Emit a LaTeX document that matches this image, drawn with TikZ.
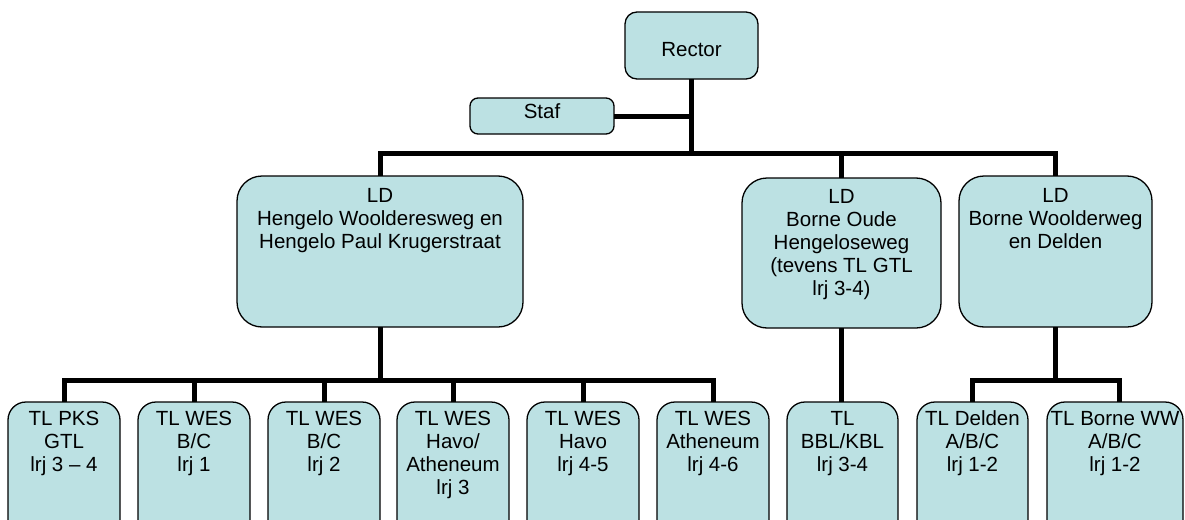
\documentclass[tikz,border=0pt]{standalone}
\usepackage{fontspec}
\setmainfont{Liberation Sans}
\usetikzlibrary{calc}
\definecolor{boxfill}{RGB}{188,225,227}
\newcommand{\boxtext}[4]{\parbox[c][#2][t]{#1}{\centering\vspace*{#3}#4\par}}
\begin{document}
\begin{tikzpicture}[x=1pt,y=-1pt,
  box/.style={draw=black,line width=1.3pt,fill=boxfill,inner sep=0pt,outer sep=0pt,
    anchor=north west,rounded corners=#1,font=\fontsize{20.5}{23}\selectfont},
  box/.default=18pt,
  conn/.style={line width=5pt}]
\useasboundingbox (0,0) rectangle (1185,519);
\clip (0,0) rectangle (1185,519);
% top level
\node[box=12pt] (rector) at (625,12) {\boxtext{133pt}{67pt}{30pt}{Rector}};
\node[box=8pt] (staf) at (470,98) {\boxtext{144pt}{36pt}{6pt}{Staf}};
% LD level
\node[box=25pt] (ld1) at (237,176) {\boxtext{286pt}{151pt}{12pt}{LD\\Hengelo Woolderesweg en\\Hengelo Paul Krugerstraat}};
\node[box=25pt] (ld2) at (742,178) {\boxtext{199pt}{150pt}{11pt}{LD\\Borne Oude\\Hengeloseweg\\(tevens TL GTL\\lrj 3-4)}};
\node[box=25pt] (ld3) at (959,176) {\boxtext{193pt}{151pt}{12pt}{LD\\Borne Woolderweg\\en Delden}};
% TL level
\node[box] (b1) at (8,402) {\boxtext{112pt}{140pt}{9pt}{TL PKS\\GTL\\lrj 3 – 4}};
\node[box] (b2) at (138,402) {\boxtext{112pt}{140pt}{9pt}{TL WES\\B/C\\lrj 1}};
\node[box] (b3) at (268,402) {\boxtext{112pt}{140pt}{9pt}{TL WES\\B/C\\lrj 2}};
\node[box] (b4) at (397,402) {\boxtext{112pt}{140pt}{9pt}{TL WES\\Havo/\\Atheneum\\lrj 3}};
\node[box] (b5) at (527,402) {\boxtext{112pt}{140pt}{9pt}{TL WES\\Havo\\lrj 4-5}};
\node[box] (b6) at (657,402) {\boxtext{112pt}{140pt}{9pt}{TL WES\\Atheneum\\lrj 4-6}};
\node[box] (b7) at (787,402) {\boxtext{111pt}{140pt}{9pt}{TL\\BBL/KBL\\lrj 3-4}};
\node[box] (b8) at (917,402) {\boxtext{111pt}{140pt}{9pt}{TL Delden\\A/B/C\\lrj 1-2}};
\node[box] (b9) at (1047,402) {\boxtext{136pt}{140pt}{9pt}{TL Borne WW\\A/B/C\\lrj 1-2}};
% connectors
\coordinate (bus1) at (0,153);
\coordinate (bus2) at (0,380);
\coordinate (b9top) at ($(b9.north west)+(72,0)$);
\draw[conn] (rector.south) -- (rector.south |- bus1);
\draw[conn] (staf.east) -- (staf.east -| rector.south);
\draw[conn] (ld1.north) -- (ld1.north |- bus1) -- (ld3.north |- bus1) -- (ld3.north);
\draw[conn] (ld2.north) -- (ld2.north |- bus1);
\draw[conn] (ld1.south) -- (ld1.south |- bus2);
\draw[conn] (b1.north) -- (b1.north |- bus2) -- (b6.north |- bus2) -- (b6.north);
\foreach \b in {b2,b3,b4,b5} {\draw[conn] (\b.north) -- (\b.north |- bus2);}
\draw[conn] (ld2.south) -- (ld2.south |- b7.north);
\draw[conn] (ld3.south) -- (ld3.south |- bus2);
\draw[conn] (b8.north) -- (b8.north |- bus2) -- (b9top |- bus2) -- (b9top);
\end{tikzpicture}
\end{document}
